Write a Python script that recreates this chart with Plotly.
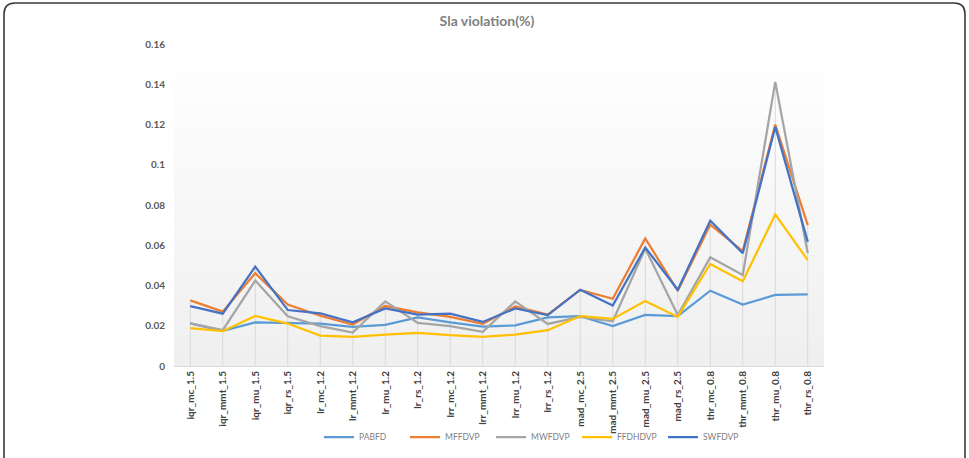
import plotly.graph_objects as go

categories = ["iqr_mc_1.5", "iqr_mmt_1.5", "iqr_mu_1.5", "iqr_rs_1.5",
              "lr_mc_1.2", "lr_mmt_1.2", "lr_mu_1.2", "lr_rs_1.2",
              "lrr_mc_1.2", "lrr_mmt_1.2", "lrr_mu_1.2", "lrr_rs_1.2",
              "mad_mc_2.5", "mad_mmt_2.5", "mad_mu_2.5", "mad_rs_2.5",
              "thr_mc_0.8", "thr_mmt_0.8", "thr_mu_0.8", "thr_rs_0.8"]

pabfd   = [0.0212, 0.0175, 0.0217, 0.0214, 0.0210, 0.0194, 0.0204, 0.0242, 0.0217, 0.0196,
           0.0202, 0.0242, 0.0248, 0.0198, 0.0254, 0.0248, 0.0374, 0.0305, 0.0353, 0.0356]
mffdvp  = [0.0326, 0.0270, 0.0461, 0.0305, 0.0250, 0.0206, 0.0298, 0.0267, 0.0244, 0.0210,
           0.0296, 0.0255, 0.0378, 0.0334, 0.0634, 0.0374, 0.0702, 0.0571, 0.1200, 0.0700]
mwfdvp  = [0.0212, 0.0178, 0.0425, 0.0247, 0.0198, 0.0166, 0.0321, 0.0214, 0.0198, 0.0170,
           0.0321, 0.0209, 0.0244, 0.0222, 0.0584, 0.0253, 0.0540, 0.0452, 0.1412, 0.0560]
ffdhdvp = [0.0188, 0.0173, 0.0249, 0.0211, 0.0151, 0.0145, 0.0156, 0.0165, 0.0153, 0.0145,
           0.0156, 0.0178, 0.0248, 0.0234, 0.0323, 0.0244, 0.0507, 0.0421, 0.0753, 0.0526]
swfdvp  = [0.0298, 0.0260, 0.0494, 0.0278, 0.0262, 0.0217, 0.0286, 0.0255, 0.0260, 0.0219,
           0.0286, 0.0253, 0.0379, 0.0300, 0.0589, 0.0379, 0.0722, 0.0560, 0.1188, 0.0617]

series = [("PABFD", pabfd, "#5B9BD5"),
          ("MFFDVP", mffdvp, "#ED7D31"),
          ("MWFDVP", mwfdvp, "#A5A5A5"),
          ("FFDHDVP", ffdhdvp, "#FFC000"),
          ("SWFDVP", swfdvp, "#4472C4")]

W, H = 969, 458
L, R, T, B = 174, 824, 44, 366  # plot area in px


def px(xp):
    return (xp - L) / (R - L)


def py(yp):
    return (B - yp) / (B - T)


fig = go.Figure()

# drop lines (from the highest value at each category down to the axis)
dx, dy = [], []
for i, c in enumerate(categories):
    top = max(s[1][i] for s in series)
    dx += [c, c, None]
    dy += [0, top, None]
fig.add_trace(go.Scatter(x=dx, y=dy, mode="lines", line=dict(color="#d9d9d9", width=1),
                         showlegend=False, hoverinfo="skip"))

for name, vals, col in series:
    fig.add_trace(go.Scatter(x=categories, y=vals, mode="lines", name=name,
                             line=dict(color=col, width=2.25)))

shapes = []
# gradient plot background: white at top to light gray at bottom
n = 40
for k in range(n):
    t = k / (n - 1)
    v = int(round(255 - (255 - 239) * t))
    shapes.append(dict(type="rect", xref="x domain", yref="y domain",
                       x0=0, x1=1, y0=1 - (k + 1) / n, y1=1 - k / n,
                       fillcolor=f"rgb({v},{v},{v})", line=dict(width=0), layer="below"))

# rounded outer frame
x0, x1, y0, y1, r = 4, 965, 3, 475, 11
rx, ry = r / (R - L), r / (B - T)
X0, X1, Y0, Y1 = px(x0), px(x1), py(y1), py(y0)
path = (f"M {X0+rx},{Y1} L {X1-rx},{Y1} Q {X1},{Y1} {X1},{Y1-ry} "
        f"L {X1},{Y0+ry} Q {X1},{Y0} {X1-rx},{Y0} L {X0+rx},{Y0} "
        f"Q {X0},{Y0} {X0},{Y0+ry} L {X0},{Y1-ry} Q {X0},{Y1} {X0+rx},{Y1} Z")
shapes.append(dict(type="path", xref="paper", yref="paper", path=path,
                   line=dict(color="#3a3a3a", width=1.6), fillcolor="rgba(0,0,0,0)"))

fig.update_layout(
    width=W, height=H,
    margin=dict(l=L, r=W - R, t=T, b=H - B, autoexpand=False),
    paper_bgcolor="white",
    plot_bgcolor="rgba(0,0,0,0)",
    shapes=shapes,
    title=dict(text="Sla violation(%)", x=487 / W, xanchor="center", xref="container",
               y=1 - 21 / H, yanchor="middle", yref="container",
               font=dict(family="Lato", size=14, color="#7f7f7f", weight="bold")),
    xaxis=dict(type="category", tickangle=-90, showgrid=False, zeroline=False,
               showline=True, linecolor="#d9d9d9", linewidth=1, ticks="",
               automargin=False,
               tickfont=dict(family="Lato", size=10, color="#404040", weight="bold"),
               range=[-0.5, len(categories) - 0.5]),
    yaxis=dict(range=[0, 0.16], tickvals=[0, 0.02, 0.04, 0.06, 0.08, 0.1, 0.12, 0.14, 0.16],
               ticktext=["0", "0.02", "0.04", "0.06", "0.08", "0.1", "0.12", "0.14", "0.16"],
               showgrid=False, zeroline=False, showline=False, ticks="",
               ticklabelstandoff=8, automargin=False,
               tickfont=dict(family="Lato", size=10, color="#595959", weight="bold")),
    legend=dict(orientation="h", x=px(534), xanchor="center", y=py(437), yanchor="middle",
                font=dict(family="Lato", size=8.5, color="#7f7f7f"),
                bgcolor="rgba(0,0,0,0)", itemwidth=30, tracegroupgap=0,
                entrywidth=41, entrywidthmode="pixels"),
    hovermode=False,
)

fig.write_html("out.html")
